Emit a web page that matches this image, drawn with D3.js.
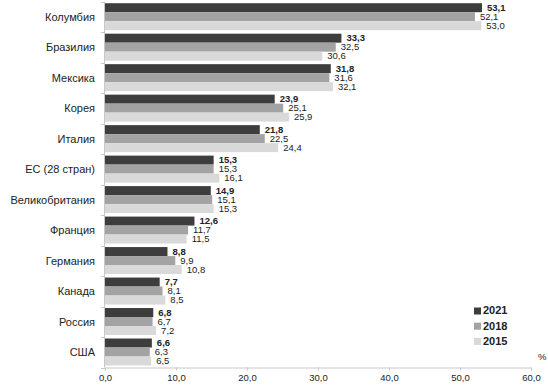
<!DOCTYPE html>
<html>
<head>
<meta charset="utf-8">
<script src="https://cdn.jsdelivr.net/npm/d3@7"></script>
<style>
  html, body { margin: 0; padding: 0; background: #fff; }
  svg { display: block; font-family: "Liberation Sans", Arial, sans-serif; }
</style>
</head>
<body>
<svg id="chart" width="548" height="385"></svg>
<script>
// chart values
var countries = ["Колумбия", "Бразилия", "Мексика", "Корея", "Италия", "ЕС (28 стран)",
  "Великобритания", "Франция", "Германия", "Канада", "Россия", "США"];
var years = ["2021", "2018", "2015"];
var values2021 = [53.1, 33.3, 31.8, 23.9, 21.8, 15.3, 14.9, 12.6, 8.8, 7.7, 6.8, 6.6];
var values2018 = [52.1, 32.5, 31.6, 25.1, 22.5, 15.3, 15.1, 11.7, 9.9, 8.1, 6.7, 6.3];
var values2015 = [53.0, 30.6, 32.1, 25.9, 24.4, 16.1, 15.3, 11.5, 10.8, 8.5, 7.2, 6.5];
var xTicks = [0, 10, 20, 30, 40, 50, 60];

var colors = {"2021": "#3d3d3d", "2018": "#a3a3a3", "2015": "#d9d9d9"};
var seriesByYear = {"2021": values2021, "2018": values2018, "2015": values2015};

var svg = d3.select("#chart");
var fmt = function(v) { return d3.format(".1f")(v).replace(".", ","); };

//plot area
var x = d3.scaleLinear().domain([0, 60]).range([105, 531]);
var y = d3.scaleBand().domain(countries).range([1.7, 367.5]).padding(0);
var inner = d3.scaleBand().domain(years).range([1.5, y.bandwidth() - 2]).padding(0);

var rows = [];
countries.forEach(function(c, i) {
  years.forEach(function(yr) {
    rows.push({country: c, year: yr, value: seriesByYear[yr][i]});
  });
});

svg.append("g")
  .selectAll("rect")
  .data(rows)
  .enter().append("rect")
    .attr("x", x(0))
    .attr("y", function(d) { return y(d.country) + inner(d.year); })
    .attr("width", function(d) { return x(d.value) - x(0); })
    .attr("height", inner.bandwidth())
    .attr("fill", function(d) { return colors[d.year]; });

svg.append("g")
  .selectAll("text")
  .data(rows)
  .enter().append("text")
    .attr("x", function(d) { return x(d.value) + 5; })
    .attr("y", function(d) { return y(d.country) + inner(d.year) + inner.bandwidth() / 2 + 0.5; })
    .attr("dominant-baseline", "middle")
    .attr("font-size", "9.5px")
    .attr("font-weight", function(d) { return d.year === "2021" ? "bold" : "normal"; })
    .attr("fill", "#222")
    .text(function(d) { return fmt(d.value); });

// y axis: line plus tick marks between categories
var yAxis = svg.append("g");
yAxis.append("line")
  .attr("x1", x(0) - 0.5).attr("x2", x(0) - 0.5)
  .attr("y1", y.range()[0]).attr("y2", y.range()[1])
  .attr("stroke", "#c8c8c8");
yAxis.selectAll("line.tick")
  .data(countries.map(function(c) { return y(c); }).concat([y.range()[1]]))
  .enter().append("line")
    .attr("class", "tick")
    .attr("x1", x(0) - 4).attr("x2", x(0))
    .attr("y1", function(d) { return Math.round(d) + 0.5; })
    .attr("y2", function(d) { return Math.round(d) + 0.5; })
    .attr("stroke", "#c8c8c8");
yAxis.selectAll("text")
  .data(countries)
  .enter().append("text")
    .attr("x", 95)
    .attr("y", function(d) { return y(d) + y.bandwidth() / 2 + 1; })
    .attr("text-anchor", "end")
    .attr("dominant-baseline", "middle")
    .attr("font-size", "11px")
    .attr("fill", "#222")
    .text(function(d) { return d; });

// x axis
var xAxis = svg.append("g")
  .attr("transform", "translate(0," + 367.5 + ")")
  .call(d3.axisBottom(x).tickValues(xTicks).tickSize(3).tickPadding(4).tickFormat(fmt));
xAxis.select(".domain").attr("stroke", "#c8c8c8");
xAxis.selectAll(".tick line").attr("stroke", "#c8c8c8");
xAxis.selectAll(".tick text")
  .attr("font-size", "9.5px")
  .attr("font-family", "Liberation Sans, Arial, sans-serif")
  .attr("fill", "#222");

// legend
var legend = svg.append("g");
years.forEach(function(yr, i) {
  var ly = 311 + i * 15.2;
  legend.append("rect")
    .attr("x", 474).attr("y", ly - 3.5)
    .attr("width", 7).attr("height", 7)
    .attr("fill", colors[yr]);
  legend.append("text")
    .attr("x", 483).attr("y", ly + 0.5)
    .attr("dominant-baseline", "middle")
    .attr("font-size", "11px")
    .attr("font-weight", "bold")
    .attr("fill", "#222")
    .text(yr);
});

svg.append("text")
  .attr("x", 538).attr("y", 357)
  .attr("dominant-baseline", "middle")
  .attr("font-size", "9.5px")
  .attr("fill", "#222")
  .text("%");
</script>
</body>
</html>
